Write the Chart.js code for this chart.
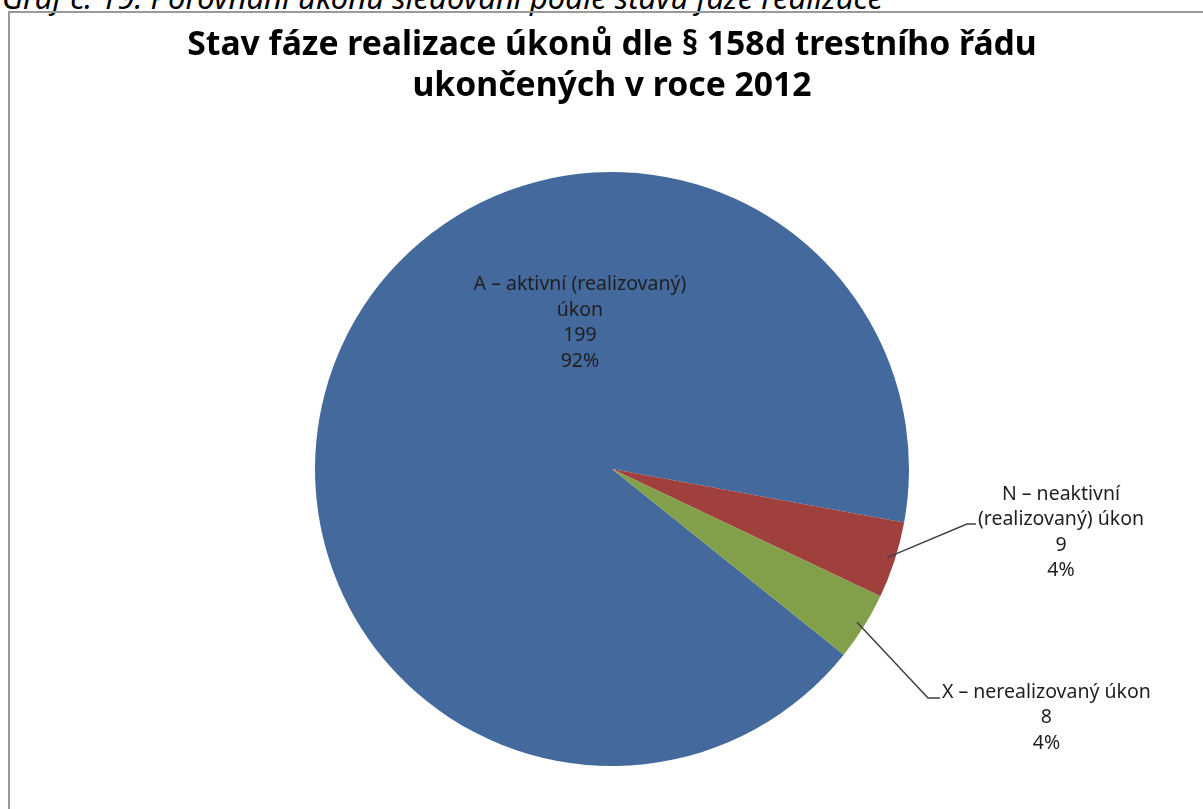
<!DOCTYPE html>
<html lang="cs">
<head>
<meta charset="utf-8">
<script src="https://cdn.jsdelivr.net/npm/chart.js@4.4.0/dist/chart.umd.min.js"></script>
<style>
    html, body { margin: 0; padding: 0; background: #fff; overflow: hidden; }
    body { width: 1203px; height: 809px; position: relative; }
    .caption { position: absolute; left: 2px; top: -18px; font: italic 31px "Noto Sans", sans-serif; line-height: 31px; color: #000; white-space: nowrap; }
    .frame { position: absolute; left: 8px; top: 11px; width: 1300px; height: 900px; border-left: 2px solid #9a9a9a; border-top: 2px solid #9a9a9a; }
    #chart { position: absolute; left: 0; top: 0; }
</style>
</head>
<body>
<div class="caption">Graf č. 19: Porovnání úkonů sledování podle stavu fáze realizace</div>
<div class="frame"></div>
<canvas id="chart" width="1203" height="809"></canvas>
<script>
// Stav fáze realizace úkonů
const categories = [
    ['A – aktivní (realizovaný)', 'úkon'],
    ['N – neaktivní', '(realizovaný) úkon'],
    ['X – nerealizovaný úkon']
];
const counts = [199, 9, 8];
const colors = ['#43699d', '#9f403d', '#82a04a'];
const titleLines = ['Stav fáze realizace úkonů dle § 158d trestního řádu', 'ukončených v roce 2012'];

(function() {
    const total = counts.reduce((a, b) => a + b, 0);
    const labelFont = '19.5px "Noto Sans", sans-serif';
    const lineStep = 25.5;

    // big slice gets its label inside, the small ones get a leader line
    const labelPlaces = [
        { inside: true, dx: -0.108, dy: -0.62 },
        { inside: false, elbowDx: 1.195, elbowDy: 0.185, hook: 9, textDy: -30 },
        { inside: false, elbowDx: 1.064, elbowDy: 0.771, hook: 12, textDy: -6 }
    ];

    function labelLines(i) {
        const pct = Math.round(counts[i] / total * 100) + '%';
        return categories[i].concat([String(counts[i]), pct]);
    }

    const pieLabels = {
        id: 'pieLabels',
        afterDatasetsDraw(chart) {
            const ctx = chart.ctx;
            const meta = chart.getDatasetMeta(0);
            ctx.save();
            ctx.font = labelFont;
            ctx.textAlign = 'center';
            ctx.textBaseline = 'middle';
            meta.data.forEach((arc, i) => {
                const p = arc.getProps(['x', 'y', 'startAngle', 'endAngle', 'outerRadius'], true);
                const r = p.outerRadius;
                const place = labelPlaces[i];
                const lines = labelLines(i);
                let cx, top;
                if (place.inside) {
                    cx = p.x + place.dx * r;
                    top = p.y + place.dy * r;
                } else {
                    const mid = (p.startAngle + p.endAngle) / 2;
                    const sx = p.x + Math.cos(mid) * (r - 8);
                    const sy = p.y + Math.sin(mid) * (r - 8);
                    const ex = p.x + place.elbowDx * r;
                    const ey = p.y + place.elbowDy * r;
                    ctx.beginPath();
                    ctx.moveTo(sx, sy);
                    ctx.lineTo(ex, ey);
                    ctx.lineTo(ex + place.hook, ey);
                    ctx.strokeStyle = '#404040';
                    ctx.lineWidth = 1.5;
                    ctx.stroke();
                    const bw = Math.max(...lines.map(t => ctx.measureText(t).width));
                    cx = ex + place.hook + 2 + bw / 2;
                    top = ey + place.textDy;
                }
                ctx.fillStyle = '#1f1f1f';
                lines.forEach((t, k) => ctx.fillText(t, cx, top + k * lineStep));
            });
            ctx.restore();
        }
    };

    function initChart() {
        const canvas = document.getElementById('chart');
        new Chart(canvas.getContext('2d'), {
            type: 'pie',
            data: {
                labels: categories.map(c => c.join(' ')),
                datasets: [{ data: counts, backgroundColor: colors, borderWidth: 0 }]
            },
            options: {
                responsive: false,
                animation: false,
                events: [],
                rotation: 128.7,
                layout: { padding: { left: 21, right: 0, top: 0, bottom: 43 } },
                plugins: {
                    legend: { display: false },
                    tooltip: { enabled: false },
                    title: {
                        display: true,
                        text: titleLines,
                        color: '#000',
                        font: { family: '"Noto Sans", sans-serif', size: 33.7, weight: 'bold', lineHeight: 1.217 },
                        padding: { top: 25, bottom: 65 }
                    }
                }
            },
            plugins: [pieLabels]
        });
    }

    initChart();
})();
</script>
</body>
</html>
